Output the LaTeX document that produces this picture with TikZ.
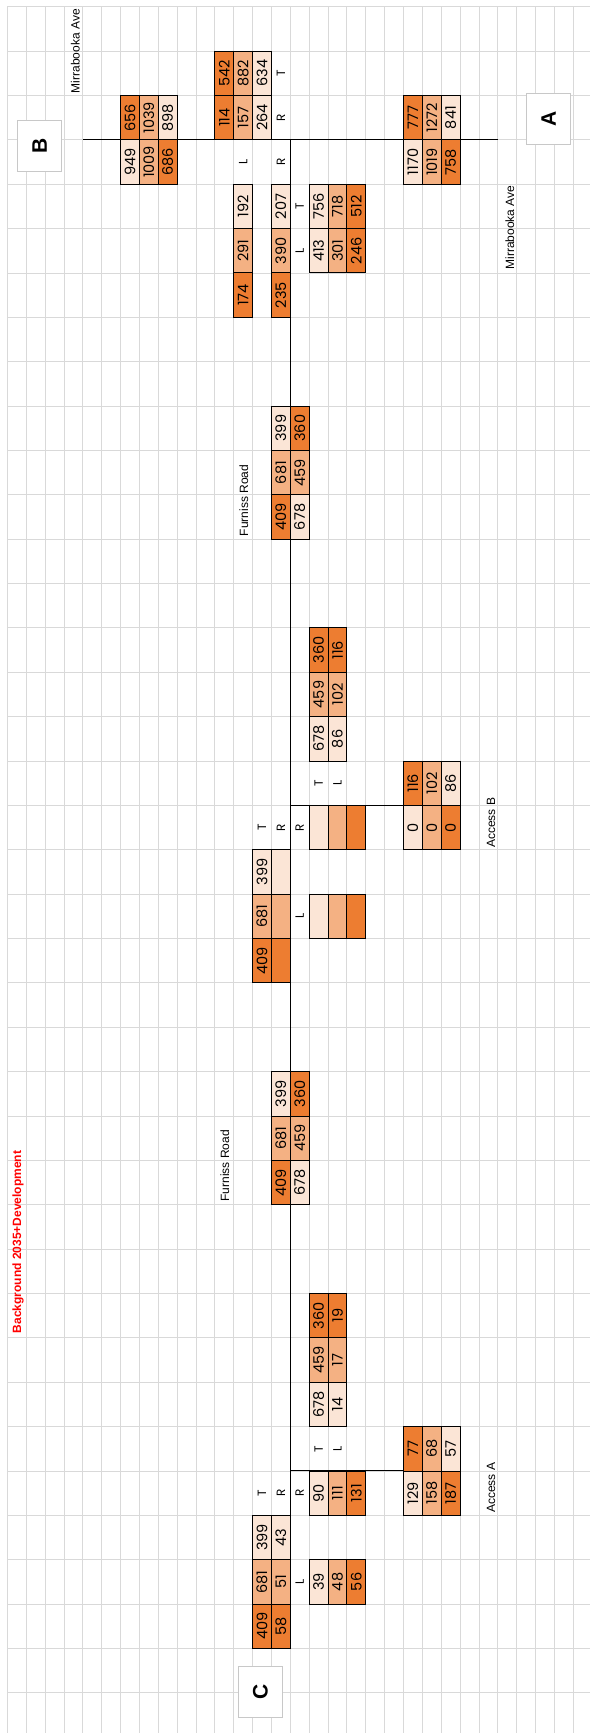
\documentclass[tikz,border=0pt]{standalone}
\usepackage{fontspec}
\setmainfont{Liberation Sans}
\newfontfamily\numfont{Poppins}
\usetikzlibrary{positioning}
\definecolor{orhi}{HTML}{ED7D31}
\definecolor{ormid}{HTML}{F4B183}
\definecolor{orlo}{HTML}{FBE5D6}
\definecolor{gridgray}{HTML}{D9D9D9}
\definecolor{sitegray}{HTML}{C8C8C8}
\tikzset{
  gridline/.style={draw=gridgray, line width=0.8pt},
  road/.style={draw=black, line width=1pt},
  cellbox/.style={draw=black, line width=0.9pt, rotate=90, minimum width=44.37pt, minimum height=18.86pt, inner sep=0pt, font=\numfont\fontsize{14.5pt}{14.5pt}\selectfont},
  movelbl/.style={rotate=90, inner sep=0pt, font=\numfont\fontsize{12pt}{12pt}\selectfont},
  roadlbl/.style={rotate=90, anchor=west, inner sep=0pt, font=\fontsize{12pt}{12pt}\selectfont},
  sitebox/.style={draw=sitegray, line width=0.8pt, fill=white, rotate=90, minimum width=51pt, minimum height=44.3pt, inner sep=0pt, font=\bfseries\fontsize{21pt}{21pt}\selectfont},
}

\begin{document}
\begin{tikzpicture}[x=18.86pt, y=-44.37pt]
    \useasboundingbox (-0.3924,-0.151) rectangle (30.89,38.906);
    % sheet grid
    \foreach \i in {0,...,30} \draw[gridline] (\i,0) -- (\i,38.906);
    \foreach \j in {0,...,38} \draw[gridline] (0,\j) -- (30.89,\j);
    % roads
    \coordinate (mirB) at (4,3);
    \coordinate (mirA) at (26,3);
    \coordinate (furN) at (15,3);
    \coordinate (furS) at (15,34);
    \coordinate (accBw) at (15,18);
    \coordinate (accBe) at (24,18);
    \coordinate (accAw) at (15,33);
    \coordinate (accAe) at (24,33);
    \draw[road] (mirB) -- (mirA);
    \draw[road] (furN) -- (furS);
    \draw[road] (accBw) -- (accBe);
    \draw[road] (accAw) -- (accAe);
    % turning volumes
    \foreach \c/\r/\f/\v in {6/2/orhi/656, 7/2/ormid/1039, 8/2/orlo/898,
        6/3/orlo/949, 7/3/ormid/1009, 8/3/orhi/686,
        11/1/orhi/542, 12/1/ormid/882, 13/1/orlo/634,
        11/2/orhi/114, 12/2/ormid/157, 13/2/orlo/264,
        12/4/orlo/192, 12/5/ormid/291, 12/6/orhi/174,
        14/4/orlo/207, 14/5/ormid/390, 14/6/orhi/235,
        16/4/orlo/756, 17/4/ormid/718, 18/4/orhi/512,
        16/5/orlo/413, 17/5/ormid/301, 18/5/orhi/246,
        21/2/orhi/777, 22/2/ormid/1272, 23/2/orlo/841,
        21/3/orlo/1170, 22/3/ormid/1019, 23/3/orhi/758,
        14/9/orlo/399, 14/10/ormid/681, 14/11/orhi/409,
        15/9/orhi/360, 15/10/ormid/459, 15/11/orlo/678,
        16/14/orhi/360, 17/14/orhi/116,
        16/15/ormid/459, 17/15/ormid/102,
        16/16/orlo/678, 17/16/orlo/86,
        21/17/orhi/116, 22/17/ormid/102, 23/17/orlo/86,
        21/18/orlo/0, 22/18/ormid/0, 23/18/orhi/0,
        16/18/orlo/{}, 17/18/ormid/{}, 18/18/orhi/{},
        13/19/orlo/399, 14/19/orlo/{},
        13/20/ormid/681, 14/20/ormid/{},
        13/21/orhi/409, 14/21/orhi/{},
        16/20/orlo/{}, 17/20/ormid/{}, 18/20/orhi/{},
        14/24/orlo/399, 14/25/ormid/681, 14/26/orhi/409,
        15/24/orhi/360, 15/25/ormid/459, 15/26/orlo/678,
        16/29/orhi/360, 17/29/orhi/19,
        16/30/ormid/459, 17/30/ormid/17,
        16/31/orlo/678, 17/31/orlo/14,
        21/32/orhi/77, 22/32/ormid/68, 23/32/orlo/57,
        21/33/orlo/129, 22/33/ormid/158, 23/33/orhi/187,
        16/33/orlo/90, 17/33/ormid/111, 18/33/orhi/131,
        13/34/orlo/399, 14/34/orlo/43,
        13/35/ormid/681, 14/35/ormid/51,
        13/36/orhi/409, 14/36/orhi/58,
        16/35/orlo/39, 17/35/ormid/48, 18/35/orhi/56}
      \node[cellbox, fill=\f] (v\c-\r) at (\c+0.5,\r+0.5) {\v};
    % movement letters
    \foreach \c/\r/\m in {14/1/T, 14/2/R, 12/3/L, 14/3/R, 15/4/T, 15/5/L,
        16/17/T, 17/17/L, 13/18/T, 14/18/R, 15/18/R, 15/20/L,
        16/32/T, 17/32/L, 13/33/T, 14/33/R, 15/33/R, 15/35/L}
      \node[movelbl] (m\c-\r) at (\c+0.5,\r+0.5) {\m};
    % street names
    \node[roadlbl] (mirNorth) at (3.6,1.95) {Mirrabooka Ave};
    \node[roadlbl] (mirSouth) at (26.64,5.93) {Mirrabooka Ave};
    \node[roadlbl] (furNorth) at (12.54,11.94) {Furniss Road};
    \node[roadlbl] (furSouth) at (11.53,26.93) {Furniss Road};
    \node[roadlbl] (accB) at (25.64,18.96) {Access B};
    \node[roadlbl] (accA) at (25.64,33.95) {Access A};
    \node[roadlbl, text=red, font=\bfseries\fontsize{12pt}{12pt}\selectfont] (title) at (0.56,29.9) {Background 2035+Development};
    % sites
    \node[sitebox] (siteB) at (1.715,3.135) {B};
    \node[sitebox] (siteA) at (28.7,2.52) {A};
    \node[sitebox] (siteC) at (13.41,37.97) {C};
\end{tikzpicture}
\end{document}
